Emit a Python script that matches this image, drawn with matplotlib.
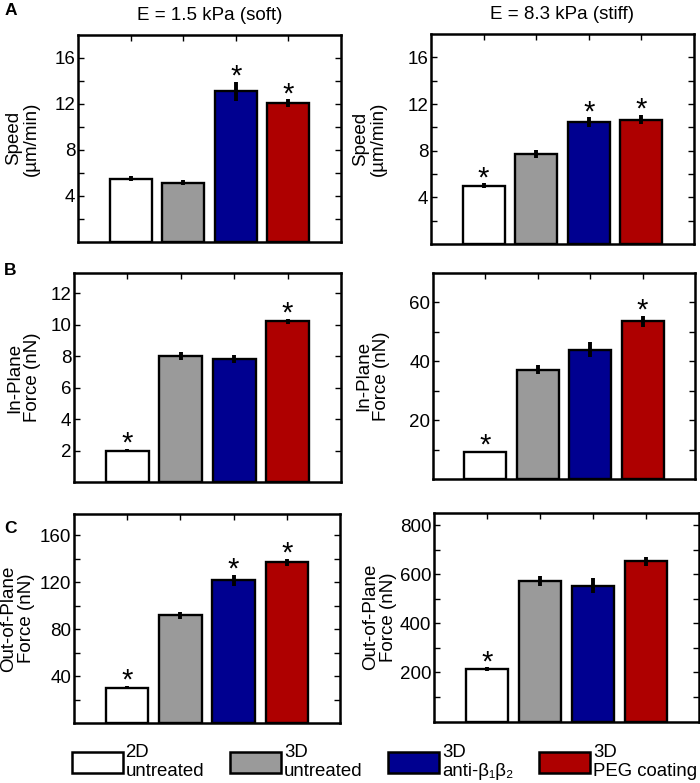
import numpy as np
import matplotlib
matplotlib.use('Agg')
import matplotlib.pyplot as plt
from matplotlib.patches import Patch

plt.rcParams['font.family'] = ['Liberation Sans', 'DejaVu Sans']

# groups / legend
groups = ['2D\nuntreated', '3D\nuntreated', '3D\nanti-β₁β₂', '3D\nPEG coating']
colors = ['#ffffff', '#9a9a9a', '#000090', '#ae0000']

# A: speed (um/min)
speed_soft = [5.5, 5.15, 13.1, 12.05]
speed_soft_err = [0.2, 0.2, 0.85, 0.35]
speed_soft_sig = [False, False, True, True]
speed_stiff = [5.0, 7.7, 10.45, 10.65]
speed_stiff_err = [0.2, 0.35, 0.4, 0.4]
speed_stiff_sig = [True, False, True, True]

# B: in-plane force (nN)
inplane_soft = [2.0, 8.0, 7.8, 10.2]
inplane_soft_err = [0.08, 0.25, 0.25, 0.15]
inplane_soft_sig = [True, False, False, True]
inplane_stiff = [9.2, 37.2, 44.0, 53.6]
inplane_stiff_err = [0.4, 1.5, 2.7, 1.8]
inplane_stiff_sig = [True, False, False, True]

# C: out-of-plane force (nN)
outplane_soft = [30.5, 92.0, 121.5, 137.0]
outplane_soft_err = [1.5, 3.0, 5.0, 3.0]
outplane_soft_sig = [True, False, True, True]
outplane_stiff = [214, 572, 554, 653]
outplane_stiff_err = [7, 20, 30, 18]
outplane_stiff_sig = [True, False, False, False]

panels = [
    # (rect, values, errors, sig, ylim, ticks, labelled ticks, ylabel, label x)
    ([0.1114, 0.691, 0.3757, 0.2644], speed_soft, speed_soft_err, speed_soft_sig,
     18, np.arange(2, 18, 2), [4, 8, 12, 16], 'Speed\n(µm/min)', -0.144),
    ([0.6157, 0.6884, 0.3757, 0.268], speed_stiff, speed_stiff_err, speed_stiff_sig,
     18, np.arange(2, 18, 2), [4, 8, 12, 16], 'Speed\n(µm/min)', -0.168),
    ([0.1057, 0.3844, 0.3814, 0.2669], inplane_soft, inplane_soft_err, inplane_soft_sig,
     13.27, np.arange(2, 13, 2), [2, 4, 6, 8, 10, 12], 'In-Plane\nForce (nN)', -0.125),
    ([0.6186, 0.3883, 0.3743, 0.263], inplane_stiff, inplane_stiff_err, inplane_stiff_sig,
     70, np.arange(10, 70, 10), [20, 40, 60], 'In-Plane\nForce (nN)', -0.164),
    ([0.1057, 0.076, 0.38, 0.2676], outplane_soft, outplane_soft_err, outplane_soft_sig,
     178, np.arange(20, 178, 20), [40, 80, 120, 160], 'Out-of-Plane\nForce (nN)', -0.147),
    ([0.62, 0.0785, 0.3786, 0.2663], outplane_stiff, outplane_stiff_err, outplane_stiff_sig,
     850, np.arange(100, 850, 100), [200, 400, 600, 800], 'Out-of-Plane\nForce (nN)', -0.141),
]

fs = 13.5

fig = plt.figure(figsize=(7, 7.83), dpi=100)
x = np.arange(1, 5)
axes = []
for rect, vals, errs, sig, ytop, ticks, labelled, ylab, lx in panels:
    ax = fig.add_axes(rect)
    ax.bar(x, vals, width=0.8, color=colors, edgecolor='black', linewidth=1.7, zorder=2)
    ax.errorbar(x, vals, yerr=errs, fmt='none', ecolor='black', elinewidth=2.8,
                capsize=0, zorder=3)
    for xi, v, e, s in zip(x, vals, errs, sig):
        if s:
            ax.annotate('*', (xi, v + e), xytext=(0, -2), textcoords='offset points',
                        ha='center', va='baseline', fontsize=21, zorder=4)
    ax.set_xlim(0, 5)
    ax.set_ylim(0, ytop)
    ax.set_xticks(x, labels=[''] * 4)
    ax.set_yticks(ticks, labels=[str(t) if t in labelled else '' for t in ticks])
    ax.tick_params(direction='in', top=True, right=True, length=4, width=1,
                   labelsize=fs, pad=2)
    for sp in ax.spines.values():
        sp.set_linewidth(1.8)
    ax.set_ylabel(ylab, fontsize=fs, linespacing=1.05)
    ax.yaxis.set_label_coords(lx, 0.5)
    axes.append(ax)

axes[0].set_title('E = 1.5 kPa (soft)', fontsize=fs, pad=11)
axes[1].set_title('E = 8.3 kPa (stiff)', fontsize=fs, pad=11)

for lab, yy in zip(['A', 'B', 'C'], [0.987, 0.655, 0.325]):
    fig.text(0.006, yy, lab, fontsize=12.5, fontweight='bold', va='center')

handles = [Patch(facecolor=c, edgecolor='black', linewidth=1.8) for c in colors]
fig.legend(handles, groups, loc='center', bbox_to_anchor=(0.549, 0.027), ncol=4,
           frameon=False, fontsize=13.4, handlelength=2.75, handleheight=1.35,
           handletextpad=0.15, columnspacing=1.38, borderpad=0, labelspacing=0)

fig.savefig('out.png', dpi=100)
